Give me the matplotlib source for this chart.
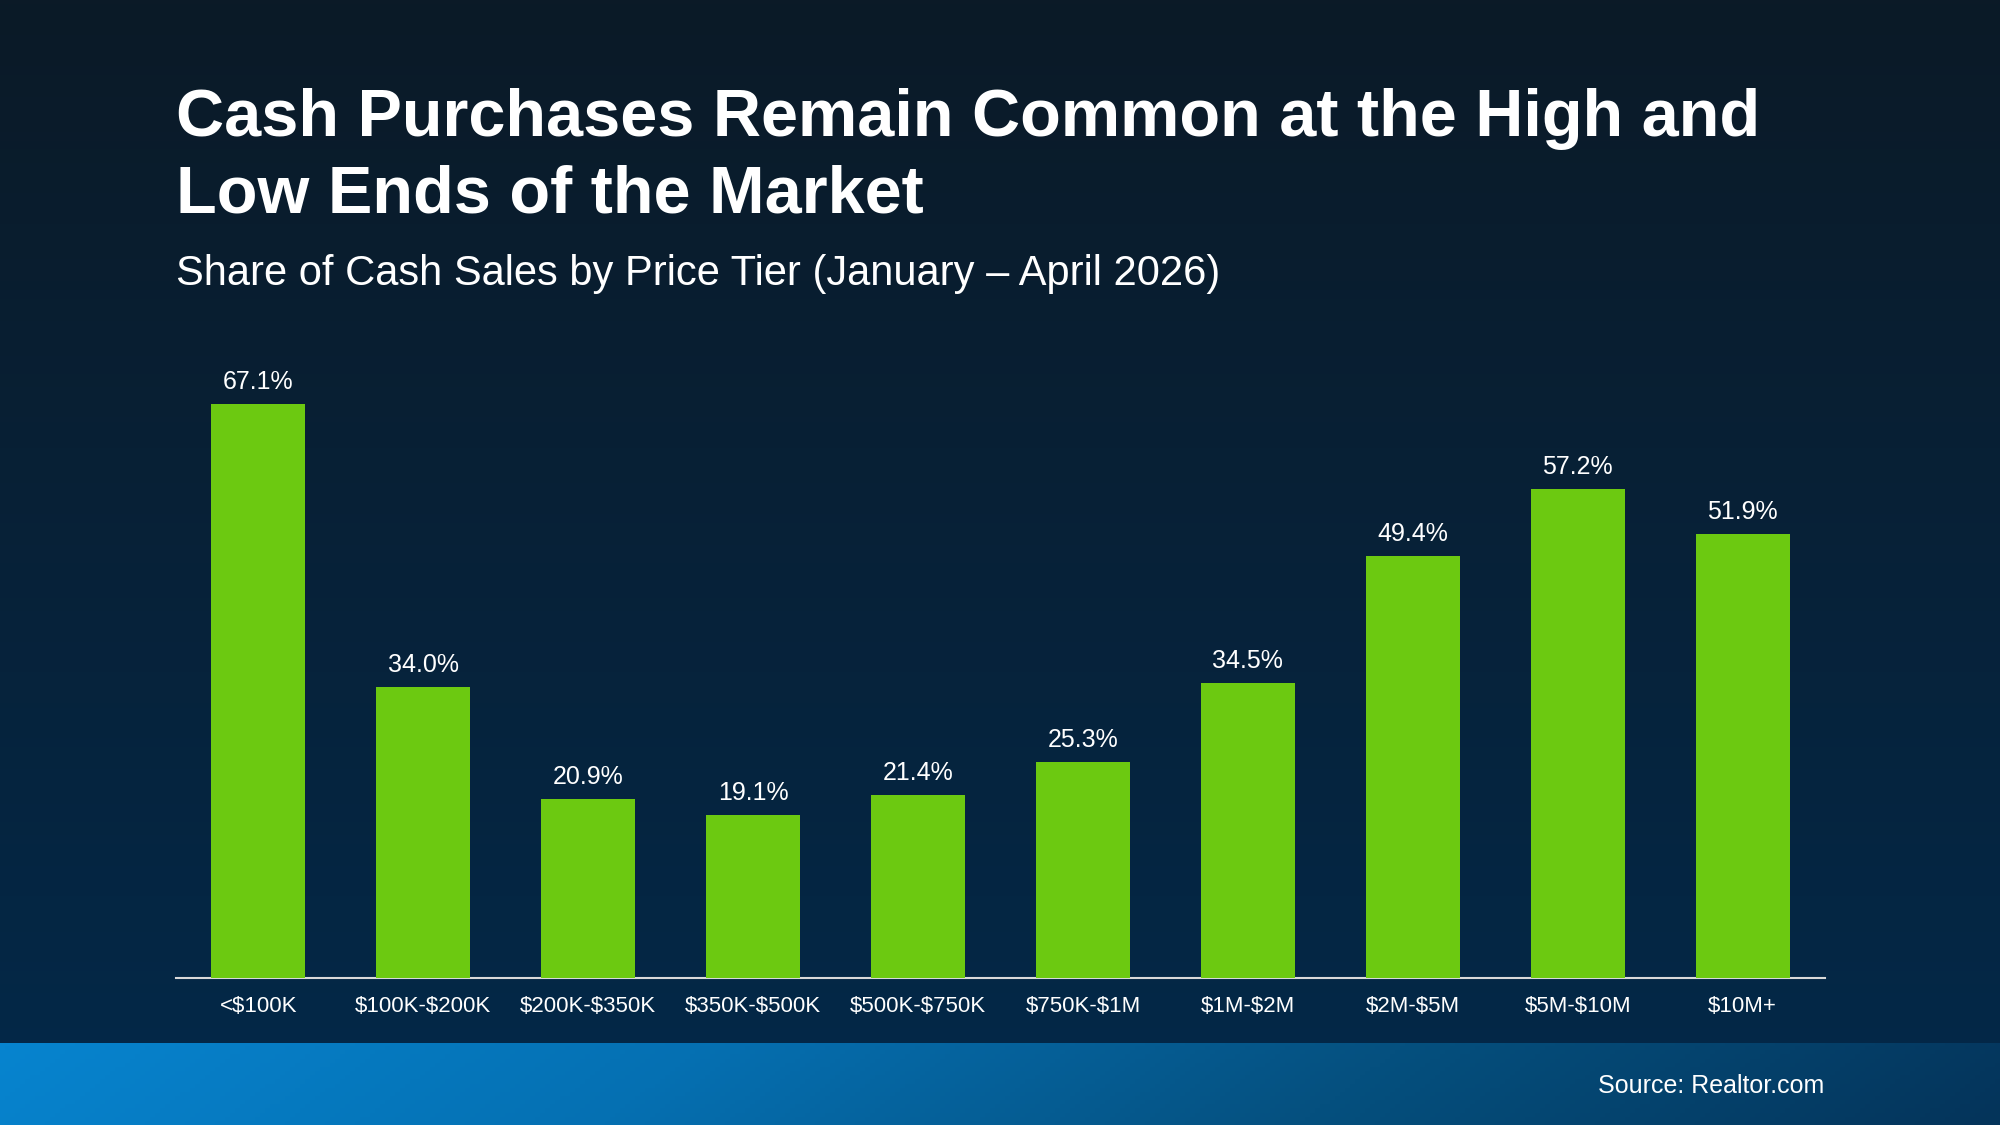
import numpy as np
import matplotlib
matplotlib.use("Agg")
import matplotlib.pyplot as plt
from matplotlib.colors import LinearSegmentedColormap

plt.rcParams['font.family'] = ['Liberation Sans', 'DejaVu Sans']
plt.rcParams['text.parse_math'] = False

# data
tiers = ["<$100K", "$100K-$200K", "$200K-$350K", "$350K-$500K", "$500K-$750K",
         "$750K-$1M", "$1M-$2M", "$2M-$5M", "$5M-$10M", "$10M+"]
cash_share = [67.1, 34.0, 20.9, 19.1, 21.4, 25.3, 34.5, 49.4, 57.2, 51.9]

title_1 = "Cash Purchases Remain Common at the High and"
title_2 = "Low Ends of the Market"
subtitle = "Share of Cash Sales by Price Tier (January \u2013 April 2026)"
source = "Source: Realtor.com"

BAR_COLOR = "#6cc911"

fig = plt.figure(figsize=(20, 11.25), dpi=100)

# background gradient (dark navy, lighter toward the bottom)
bg = fig.add_axes([0, 0, 1, 1], zorder=0)
bg_cmap = LinearSegmentedColormap.from_list("bg", ["#03294a", "#0b1a27"])
grad = np.linspace(0, 1, 256).reshape(-1, 1)
bg.imshow(grad, cmap=bg_cmap, aspect="auto", extent=[0, 1, 0, 1], origin="lower")
bg.set_xlim(0, 1)
bg.set_ylim(0, 1)
bg.axis("off")

# bottom band with a blue gradient
band = fig.add_axes([0, 0, 1, 0.0729], zorder=1)
band_cmap = LinearSegmentedColormap.from_list("band", ["#0784cf", "#0570b2", "#05507f", "#04345a"])
gx, gy = np.meshgrid(np.linspace(0, 1, 400), np.linspace(0, 1, 20))
band.imshow(np.clip(gx * 0.95 + (1 - gy) * 0.05, 0, 1), cmap=band_cmap, aspect="auto",
            extent=[0, 1, 0, 1], origin="lower")
band.axis("off")

ax = fig.add_axes([0.088, 0.1307, 0.8245, 0.570], zorder=2)
ax.patch.set_alpha(0)
x = np.arange(len(tiers))
bars = ax.bar(x, cash_share, width=0.57, color=BAR_COLOR, zorder=3)
for xi, v in zip(x, cash_share):
    ax.annotate(f"{v:.1f}%", xy=(xi, v), xytext=(0, 10.8), textcoords="offset points",
                ha="center", va="baseline", color="white", fontsize=18)

ax.set_xlim(-0.5, 9.5)
ax.set_ylim(0, 75)
ax.set_xticks(x, tiers)
ax.tick_params(axis="x", length=0, pad=13, labelsize=16, labelcolor="white")
ax.set_yticks([])
for s in ["top", "left", "right"]:
    ax.spines[s].set_visible(False)
ax.spines["bottom"].set_color("#d9d9d9")
ax.spines["bottom"].set_linewidth(1.5)

fig.text(0.088, 0.8787, title_1, color="white", fontsize=48, fontweight="bold",
         ha="left", va="baseline", zorder=3)
fig.text(0.088, 0.8107, title_2, color="white", fontsize=48, fontweight="bold",
         ha="left", va="baseline", zorder=3)
fig.text(0.088, 0.747, subtitle, color="white", fontsize=30, ha="left", va="baseline", zorder=3)
fig.text(0.912, 0.0284, source, color="white", fontsize=18, ha="right", va="baseline", zorder=3)

fig.savefig("out.png", dpi=100)
